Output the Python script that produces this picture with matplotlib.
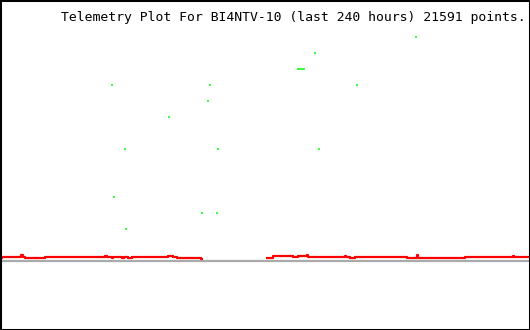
import numpy as np
import matplotlib
matplotlib.use("Agg")
import matplotlib.pyplot as plt

# ---- data (x in hours over the 240 h window, y in plot units) ----
title = "Telemetry Plot For BI4NTV-10 (last 240 hours) 21591 points."

red_hours = [0.0, 0.9, 9.5, 10.4, 11.3, 20.4, 47.5, 48.5, 50.7, 51.2, 55.2, 56.2,
             56.6, 57.1, 58.0, 59.8, 76.1, 78.3, 80.2, 91.0, 91.9,
             120.5, 123.6, 132.7, 134.9, 139.0, 139.5, 141.7, 148.1, 156.2, 156.7,
             158.5, 160.8, 184.3, 188.8, 189.3, 210.6, 232.3, 232.8, 240.0]
red_vals = [0.20, 0.26, 0.33, 0.26, 0.19, 0.25, 0.32, 0.25, 0.19, 0.25, 0.19, 0.25,
            0.22, 0.25, 0.19, 0.25, 0.32, 0.25, 0.19, 0.13, np.nan,
            0.19, 0.29, 0.23, 0.29, 0.34, 0.22, 0.22, 0.26, 0.30, 0.26,
            0.19, 0.26, 0.19, 0.33, 0.19, 0.26, 0.31, 0.26, 0.26]

green_hours = [50.9, 95.2, 94.3, 76.7, 56.7, 98.9, 51.8, 91.6, 98.3, 57.2,
               188.5, 142.8, 134.9, 135.8, 136.7, 137.6, 161.7, 144.6]
green_vals = [11, 11, 10, 9, 7, 7, 4, 3, 3, 2,
              14, 13, 12, 12, 12, 12, 11, 7]

baseline = 0

# ---- figure ----
W, H = 530, 330
fig = plt.figure(figsize=(W / 100, H / 100), dpi=100)
ax = fig.add_axes([0, 0, 1, 1])
ax.set_xlim(0, 240)
ax.set_ylim(-4.33, 16.29)
ax.set_xticks([])
ax.set_yticks([])
for s in ax.spines.values():
    s.set_color("black")
    s.set_linewidth(2.2)

ax.axhline(baseline, color="#aaaaaa", lw=1.6, zorder=1)
ax.plot(red_hours, red_vals, color="#ff0000", lw=1.6, drawstyle="steps-post",
        solid_capstyle="butt", zorder=2)
ax.plot(green_hours, green_vals, ls="none", marker="|", ms=1.8, mew=1.1,
        color="#00ff00", zorder=3)

fig.text(526 / W, 1 - 17 / H, title, ha="right", va="center",
         family="DejaVu Sans Mono", fontsize=9.45, color="black")

fig.savefig("out.png", dpi=100)
